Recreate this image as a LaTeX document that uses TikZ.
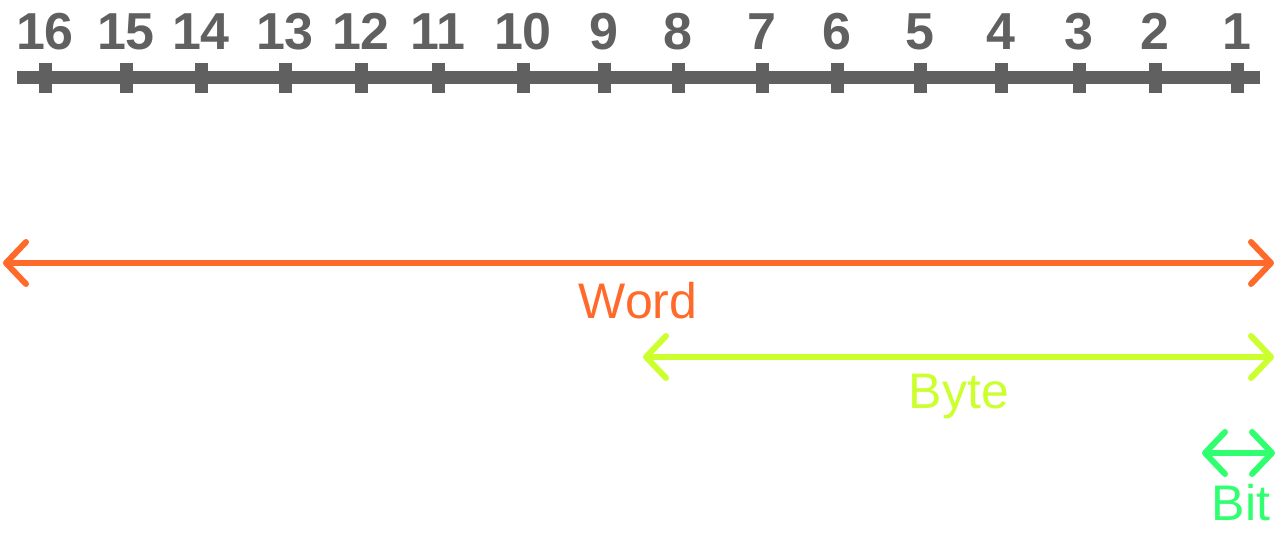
\documentclass[tikz,border=0pt]{standalone}
\usepackage{fontspec}
\setmainfont{Liberation Sans}
\usetikzlibrary{arrows.meta}

\definecolor{rulergray}{HTML}{606060}
\definecolor{wordorange}{HTML}{FF6A2A}
\definecolor{bytelime}{HTML}{CCFF2E}
\definecolor{bitgreen}{HTML}{30FF70}

\begin{document}
\begin{tikzpicture}[x=1pt,y=-1pt,
  rule/.style={rulergray,line width=13pt},
  tickmark/.style={rulergray,line width=13pt},
  bitnum/.style={font=\fontsize{52}{52}\selectfont\bfseries,text=rulergray,anchor=base},
  span/.style={line width=6pt,
    {Straight Barb[length=20pt,width=42pt,round]}-{Straight Barb[length=20pt,width=42pt,round]}},
  spanlabel/.style={font=\fontsize{50}{50}\selectfont,anchor=base}]
\useasboundingbox (0,0) rectangle (1277,537);

% ruler
\coordinate (rl) at (17,78);
\coordinate (rr) at (1260,78);
\draw[rule] (rl) -- (rr);
\foreach \n/\x in {16/45,15/126,14/201,13/285,12/361,11/438,10/523,9/604,
                   8/678,7/762,6/837,5/920,4/1001,3/1079,2/1155,1/1237}
{
  \coordinate (t\n) at (\x,78);
  \draw[tickmark] (\x,63) -- (\x,93);
  \node[bitnum] (n\n) at (\x,50) {\n};
}

% word
\coordinate (wl) at (3,263);
\coordinate (wr) at (1274,263);
\draw[span,wordorange] (wl) -- (wr);
\node[spanlabel,text=wordorange] (word) at (638,319) {Word};

% byte
\coordinate (yl) at (643,357);
\coordinate (yr) at (1274,357);
\draw[span,bytelime] (yl) -- (yr);
\node[spanlabel,text=bytelime] (byte) at (959,408) {Byte};

% bit
\coordinate (bl) at (1202,453);
\coordinate (br) at (1275,453);
\draw[span,bitgreen] (bl) -- (br);
\node[spanlabel,text=bitgreen] (bit) at (1241,520) {Bit};
\end{tikzpicture}
\end{document}
